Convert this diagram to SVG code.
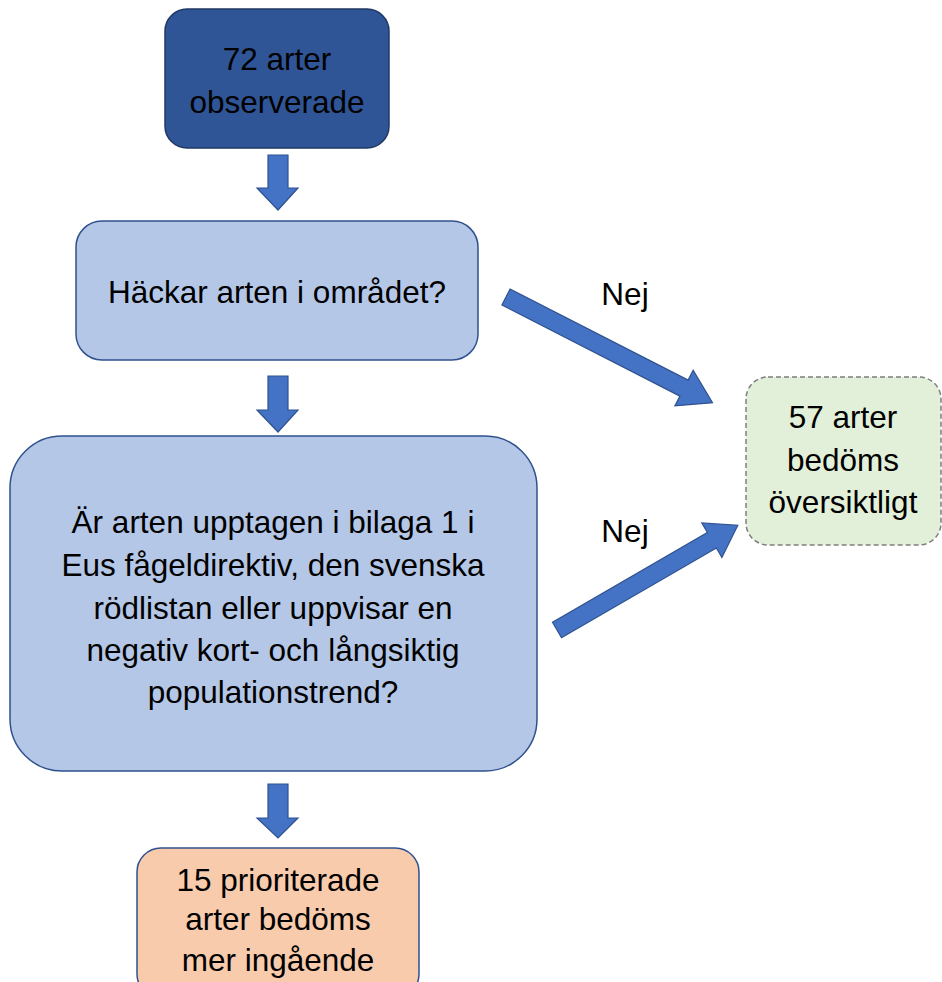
<svg xmlns="http://www.w3.org/2000/svg" width="942" height="982" viewBox="0 0 942 982">
<style>
.t{font-family:"Liberation Sans","Open Sans",Arial,sans-serif;font-size:31.5px;fill:#000;text-anchor:middle}
.blue{fill:#b4c7e7;stroke:#2f528f;stroke-width:1.5}
.arr{fill:#4472c4;stroke:#2f528f;stroke-width:1.2}
</style>
<rect width="942" height="982" fill="#fff"/>
<g id="n1">
<rect x="165" y="9" width="224" height="139" rx="22" fill="#2f5597" stroke="#203864" stroke-width="1.5"/>
<text class="t" x="277" y="70">72 arter</text>
<text class="t" x="277" y="113">observerade</text>
</g>
<g id="n2">
<rect class="blue" x="76" y="221" width="402" height="139" rx="26"/>
<text class="t" x="277" y="303">Häckar arten i området?</text>
</g>
<g id="n3">
<rect class="blue" x="10" y="436" width="527" height="335" rx="52"/>
<text class="t" x="273" y="533">Är arten upptagen i bilaga 1 i</text>
<text class="t" x="273" y="576">Eus fågeldirektiv, den svenska</text>
<text class="t" x="273" y="619">rödlistan eller uppvisar en</text>
<text class="t" x="273" y="661">negativ kort- och långsiktig</text>
<text class="t" x="273" y="703">populationstrend?</text>
</g>
<g id="n4">
<rect x="137" y="848" width="282" height="150" rx="24" fill="#f8cbad" stroke="#2f528f" stroke-width="1.5"/>
<text class="t" x="278" y="891">15 prioriterade</text>
<text class="t" x="278" y="930">arter bedöms</text>
<text class="t" x="278" y="971">mer ingående</text>
</g>
<g id="n5">
<rect x="746" y="377" width="195" height="168" rx="22" fill="#e2f0d9" stroke="#7f7f7f" stroke-width="1.5" stroke-dasharray="5,3"/>
<text class="t" x="843" y="428">57 arter</text>
<text class="t" x="843" y="471">bedöms</text>
<text class="t" x="843" y="513">översiktligt</text>
</g>
<g id="connectors">
<path class="arr" d="M268,155 H288 V188 H298 L278,210 L257,188 H268 Z"/>
<path class="arr" d="M268,376 H288 V410 H298 L278,432 L257,410 H268 Z"/>
<path class="arr" d="M268,784 H288 V818 H298 L278,838 L257,818 H268 Z"/>
<path class="arr" transform="translate(506,297) rotate(27.1)" d="M0,-9 H200 V-20 L232,0 L200,20 V9 H0 Z"/>
<path class="arr" transform="translate(557,630) rotate(-30.1)" d="M0,-9 H179 V-20 L209,0 L179,20 V9 H0 Z"/>
<text class="t" x="625" y="305">Nej</text>
<text class="t" x="625" y="542">Nej</text>
</g>
</svg>
